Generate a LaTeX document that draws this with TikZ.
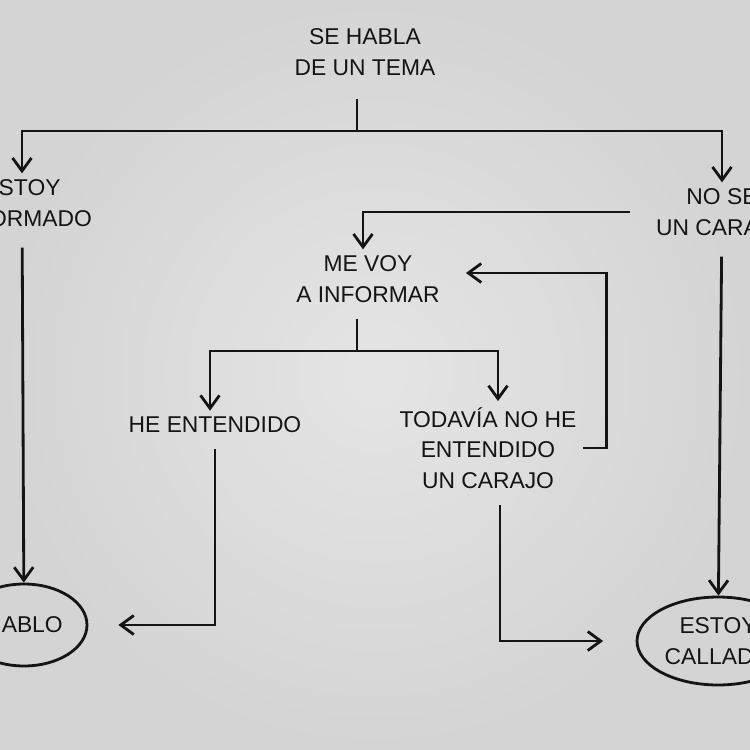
\documentclass[tikz,border=0pt]{standalone}
\usepackage{fontspec}
\setmainfont{Liberation Sans}
\usetikzlibrary{arrows.meta,shapes.geometric}
\definecolor{paperlight}{RGB}{229,229,229}
\definecolor{paperdark}{RGB}{212,212,212}
\definecolor{ink}{RGB}{20,20,20}

\begin{document}
\begin{tikzpicture}[x=0.02cm,y=-0.02cm,
    >={Straight Barb[length=2.6mm,width=3.8mm]},
    every node/.style={text=ink,align=center,
      font=\fontsize{13}{17.5}\selectfont},
    link/.style={draw=ink,line width=1.6pt},
    oval/.style={ellipse,draw=ink,line width=1.6pt,inner sep=0pt}]
  % the sheet, cut at the edges of the photo
  \shade[inner color=paperlight,outer color=paperdark] (0,0) rectangle (750,750);
  \clip (0,0) rectangle (750,750);

  \node (tema) at (365,52) {SE HABLA\\DE UN TEMA};
  \node (informado) at (22,203) {ESTOY\\INFORMADO};
  \node (nose) at (722,212) {NO SE\\UN CARAJO};
  \node (mevoy) at (368,279) {ME VOY\\A INFORMAR};
  \node (entendido) at (215,425) {HE ENTENDIDO};
  \node (todavia) at (488,448) {TODAVÍA NO HE\\ENTENDIDO\\UN CARAJO};
  \node[oval,minimum width=2.52cm,minimum height=1.64cm] (hablo) at (24,625) {HABLO};
  \node[oval,minimum width=3.24cm,minimum height=1.76cm] (callado) at (718,641) {ESTOY\\CALLADO};

  % first split
  \coordinate (splitA) at (357,131);
  \draw[link,shorten <=0.35cm] (splitA |- tema.south) -- (splitA);
  \draw[link,->] (splitA) -| (informado.north);
  \draw[link,->] (splitA) -| (nose.north);
  \draw[link,->,shorten <=0.3cm] (informado) -- (hablo);
  \draw[link,->,shorten <=0.3cm] (nose) -- (callado);
  \draw[link,->] ([xshift=-0.4cm]nose.west) -| ([xshift=-0.1cm]mevoy.north);

  % second split
  \coordinate (splitB) at (357,351);
  \draw[link,shorten <=0.2cm] (splitB |- mevoy.south) -- (splitB);
  \draw[link,->] (splitB) -| ([xshift=-0.1cm]entendido.north);
  \draw[link,->] (splitB) -| ([xshift=0.2cm]todavia.north);

  % back to the start, or down to the ovals
  \draw[link,->] (todavia.east) -- ++(24,0) |- ([xshift=0.4cm,yshift=0.12cm]mevoy.east);
  \draw[link,->,shorten <=0.2cm,shorten >=0.6cm] (entendido.south) |- (hablo.east);
  \draw[link,->,shorten <=0.2cm,shorten >=0.65cm] ([xshift=0.24cm]todavia.south) |- (callado.west);
\end{tikzpicture}
\end{document}
